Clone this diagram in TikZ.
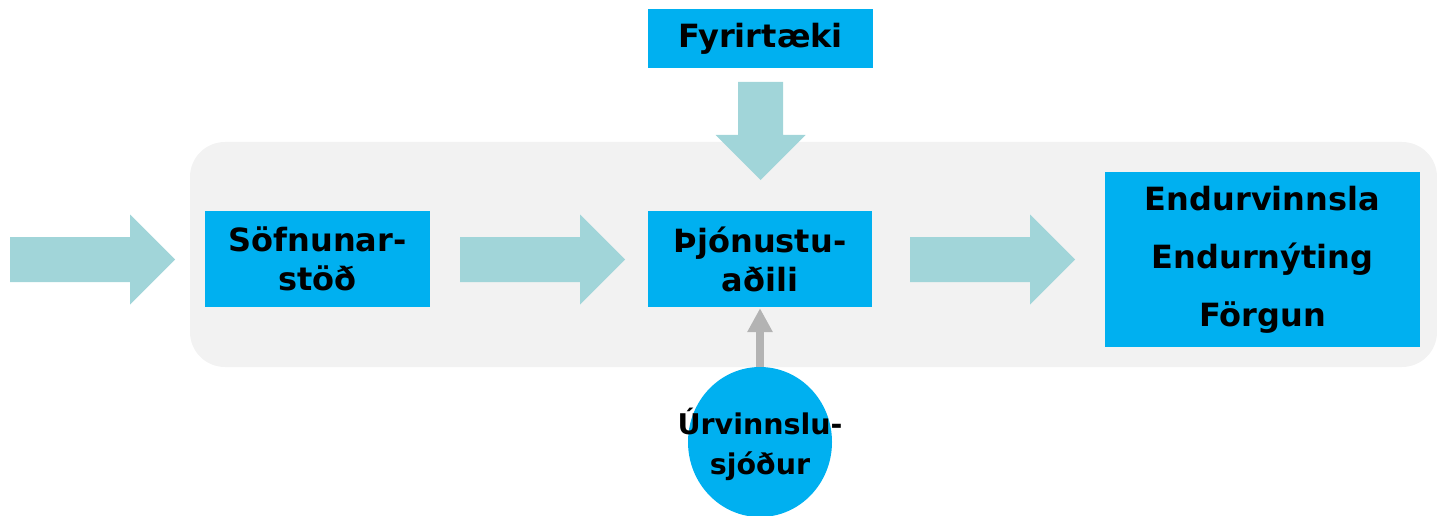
\documentclass[tikz,border=0pt]{standalone}
\usepackage{fontspec}
\setmainfont{DejaVu Sans}
\usetikzlibrary{shapes.geometric,arrows.meta}
\definecolor{boxblue}{HTML}{00B0F0}
\definecolor{arrowteal}{HTML}{A1D5D9}
\definecolor{bggray}{HTML}{F2F2F2}
\definecolor{uparrowgray}{HTML}{B3B3B3}
\tikzset{
  bluebox/.style={fill=boxblue, draw=none, inner sep=0pt, align=center,
    font=\bfseries\fontsize{32}{39}\selectfont},
  pics/blockarr/.style={code={
    \fill[arrowteal] (0,-22.5) -- ({#1-45},-22.5) -- ({#1-45},-45) -- (#1,0)
      -- ({#1-45},45) -- ({#1-45},22.5) -- (0,22.5) -- cycle;}},
  grayarr/.style={draw=uparrowgray, line width=8pt,
    -{Triangle[width=24pt,length=24pt]}, shorten >=1pt}
}
\begin{document}
\begin{tikzpicture}[x=1pt,y=-1pt]
\useasboundingbox (0,0) rectangle (1437,516);
% background panel
\fill[bggray, rounded corners=35pt] (190,142) rectangle (1437,367);
% nodes
\node[bluebox, minimum width=225pt, minimum height=96pt] (sofn) at (317.5,259) {Söfnunar-\\stöð};
\node[bluebox, minimum width=224pt, minimum height=96pt] (thjon) at (760,259) {Þjónustu-\\aðili};
\node[bluebox, minimum width=225pt, minimum height=59pt] (fyrir) at (760.5,38.5) {Fyrirtæki};
\node[bluebox, minimum width=315pt, minimum height=175pt,
  font=\bfseries\fontsize{32}{58}\selectfont] (endur) at (1262.5,259.5) {Endurvinnsla\\Endurnýting\\Förgun};
\node[ellipse, fill=boxblue, minimum width=144pt, minimum height=150pt, inner sep=0pt] (sjodur) at (760,442) {};
\node[align=center, inner sep=0pt, font=\bfseries\fontsize{28.5}{40}\selectfont] (sjodurtxt) at (760,444) {Úrvinnslu-\\sjóður};
% block arrows
\pic at (10,259.5) {blockarr=165};
\pic at (460,259.5) {blockarr=165};
\pic at (910,259.5) {blockarr=165};
\pic[rotate=-90] at (760.5,82) {blockarr=98};
% gray connector
\draw[grayarr] (sjodur.north) -- (thjon.south);
\end{tikzpicture}
\end{document}
